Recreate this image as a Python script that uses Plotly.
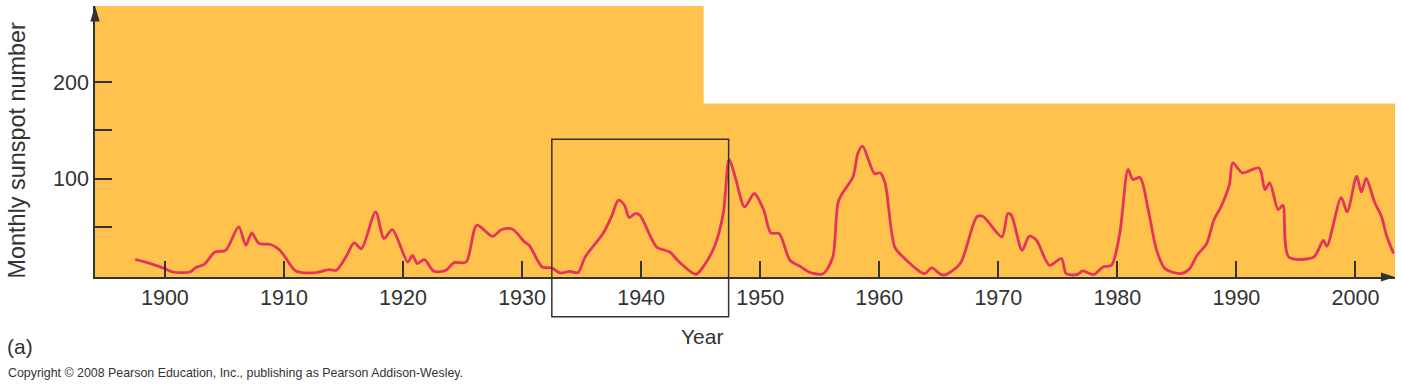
import plotly.graph_objects as go

# ---- data ----
years = [1897.5, 1898.8, 1900.0, 1900.65, 1902.1, 1902.6, 1903.3, 1904.2, 1905.1, 1906.2,
         1906.8, 1907.3, 1907.9, 1908.8, 1909.5, 1910.0, 1911.0, 1912.7, 1913.8, 1914.4,
         1915.2, 1915.9, 1916.5, 1917.7, 1918.4, 1919.1, 1920.4, 1920.8, 1921.2, 1921.8,
         1922.6, 1923.6, 1924.3, 1925.3, 1926.2, 1927.5, 1928.3, 1929.2, 1930.2, 1930.6,
         1931.7, 1932.5, 1933.2, 1934.0, 1934.7, 1935.3, 1936.8, 1937.5, 1938.1, 1938.6,
         1939.0, 1939.5, 1939.9, 1941.3, 1942.4, 1943.2, 1944.6, 1945.3, 1946.2, 1946.9,
         1947.4, 1947.9, 1948.7, 1949.5, 1950.3, 1950.9, 1951.6, 1952.5, 1953.3, 1954.3,
         1955.3, 1956.1, 1956.6, 1957.8, 1958.2, 1958.6, 1959.6, 1960.1, 1960.5, 1961.3,
         1962.0, 1963.8, 1964.4, 1965.2, 1965.6, 1966.8, 1968.2, 1968.7, 1970.3, 1970.8,
         1971.1, 1972.0, 1972.6, 1973.2, 1974.3, 1975.3, 1975.7, 1976.6, 1977.1, 1978.0,
         1978.8, 1979.5, 1980.2, 1980.9, 1981.3, 1981.9, 1982.6, 1983.3, 1984.0, 1985.3,
         1986.0, 1986.7, 1987.5, 1988.1, 1988.7, 1989.4, 1989.7, 1990.5, 1991.9, 1992.4,
         1992.8, 1993.5, 1993.9, 1994.4, 1996.5, 1997.3, 1997.6, 1998.8, 1999.3, 2000.1,
         2000.5, 2000.9, 2001.6, 2002.2, 2002.6, 2003.2]
sunspots = [15.9, 11.5, 6.2, 2.7, 2.7, 7.3, 10.7, 23.5, 25.3, 49.6,
            30.5, 43.3, 32.3, 31.6, 27.0, 20.1, 3.8, 2.1, 5.2, 4.5,
            18.3, 32.9, 27.0, 65.2, 37.5, 46.9, 13.1, 20.1, 11.5, 15.6,
            3.4, 4.5, 12.5, 13.1, 51.4, 39.9, 46.9, 47.2, 34.0, 30.5,
            7.9, 6.9, 1.7, 3.4, 2.1, 18.3, 42.7, 60.0, 77.4, 72.2,
            59.4, 63.5, 61.8, 28.8, 23.5, 13.1, 0.3, 9.7, 30.5, 63.5,
            119.8, 101.7, 70.4, 84.4, 67.0, 43.3, 42.7, 14.9, 9.0, 1.7,
            1.0, 18.3, 77.4, 101.7, 126.0, 133.6, 105.2, 105.8, 94.8, 28.8,
            18.3, 1.0, 6.9, 0.0, 0.0, 11.5, 60.0, 60.7, 39.2, 63.5,
            61.8, 25.3, 39.9, 35.7, 9.7, 16.7, 1.0, 0.0, 3.8, 0.0,
            7.9, 9.7, 42.7, 109.4, 99.0, 101.0, 67.0, 25.3, 6.2, 1.0,
            5.2, 20.1, 32.3, 56.6, 70.4, 93.0, 116.3, 105.8, 111.0, 88.5,
            95.4, 67.7, 72.2, 18.3, 18.3, 35.7, 29.5, 80.2, 65.2, 102.4,
            86.0, 100.0, 75.6, 60.0, 41.0, 21.9]

x_tick_vals = [1900, 1910, 1920, 1930, 1940, 1950, 1960, 1970, 1980, 1990, 2000]
x_tick_text = ["1900", "1910", "1920", "1930", "1940", "1950", "1960", "1970", "1980", "1990", "2000"]
y_tick_vals = [50, 100, 150, 200]
y_tick_text = ["", "100", "", "200"]

x_range = [1894.13, 2003.32]
y_range = [-2.5, 279.5]
step_year = 1945.25      # where the tall orange band ends
band_top = 178           # height of the lower orange band
box_years = [1932.5, 1947.35]

ORANGE = "#FEC24D"
RED = "#E5345C"
DARK = "#333333"
FONT = "Liberation Sans, Arial, sans-serif"

fig = go.Figure()
fig.add_trace(go.Scatter(
    x=years, y=sunspots, mode="lines",
    line=dict(color=RED, width=2.8, shape="spline", smoothing=0.8),
    hoverinfo="skip", showlegend=False,
))

shapes = [
    # orange background regions
    dict(type="rect", xref="x", yref="paper", x0=x_range[0] - 1, x1=step_year, y0=0, y1=1,
         fillcolor=ORANGE, line=dict(width=0), layer="below"),
    dict(type="rect", xref="x", yref="y", x0=step_year - 0.05, x1=x_range[1] + 1, y0=y_range[0] - 5, y1=band_top,
         fillcolor=ORANGE, line=dict(width=0), layer="below"),
    # highlight box
    dict(type="rect", xref="x", yref="paper", x0=box_years[0], x1=box_years[1], y0=-0.1465, y1=0.508,
         line=dict(color=DARK, width=1.5), fillcolor="rgba(0,0,0,0)", layer="above"),
    # axis arrowheads
    dict(type="path", xref="paper", yref="paper",
         path="M 1.0,0 L 0.9892,0.0168 L 0.9892,-0.0168 Z",
         fillcolor=DARK, line=dict(width=0)),
    dict(type="path", xref="paper", yref="paper",
         path="M 0,1.0 L 0.0036,0.943 L -0.0036,0.943 Z",
         fillcolor=DARK, line=dict(width=0)),
]

annotations = [
    dict(text="Monthly sunspot number", xref="paper", yref="paper", x=-0.0604, y=0.469,
         textangle=-90, showarrow=False, xanchor="center", yanchor="middle",
         font=dict(family=FONT, size=23.4, color=DARK)),
    dict(text="Year", xref="paper", yref="paper", x=0.467, y=-0.2214,
         showarrow=False, xanchor="center", yanchor="middle",
         font=dict(family=FONT, size=21, color=DARK)),
    dict(text="(a)", xref="paper", yref="paper", x=-0.0692, y=-0.258,
         showarrow=False, xanchor="left", yanchor="middle",
         font=dict(family=FONT, size=21, color=DARK)),
    dict(text="Copyright © 2008 Pearson Education, Inc., publishing as Pearson Addison-Wesley.",
         xref="paper", yref="paper", x=-0.0683, y=-0.353,
         showarrow=False, xanchor="left", yanchor="middle",
         font=dict(family=FONT, size=12.4, color=DARK)),
]

fig.update_layout(
    width=1402, height=389,
    margin=dict(l=95, r=7, t=6, b=112),
    paper_bgcolor="white", plot_bgcolor="white",
    shapes=shapes, annotations=annotations,
    showlegend=False,
    font=dict(family=FONT, color=DARK),
)
fig.update_xaxes(
    range=x_range, showgrid=False, zeroline=False,
    showline=True, linecolor=DARK, linewidth=1.5,
    ticks="inside", ticklen=16, tickwidth=1.5, tickcolor=DARK,
    tickvals=x_tick_vals, ticktext=x_tick_text,
    tickfont=dict(family=FONT, size=21.5, color=DARK),
)
fig.update_yaxes(
    range=y_range, showgrid=False, zeroline=False,
    showline=True, linecolor=DARK, linewidth=1.5,
    ticks="inside", ticklen=17, tickwidth=1.5, tickcolor=DARK,
    tickvals=y_tick_vals, ticktext=y_tick_text,
    tickfont=dict(family=FONT, size=21.5, color=DARK),
)

fig.write_html(
    "out.html",
    config={"displayModeBar": False},
    post_script="document.body.style.margin='0';document.body.style.padding='0';document.body.style.overflow='hidden';",
)
